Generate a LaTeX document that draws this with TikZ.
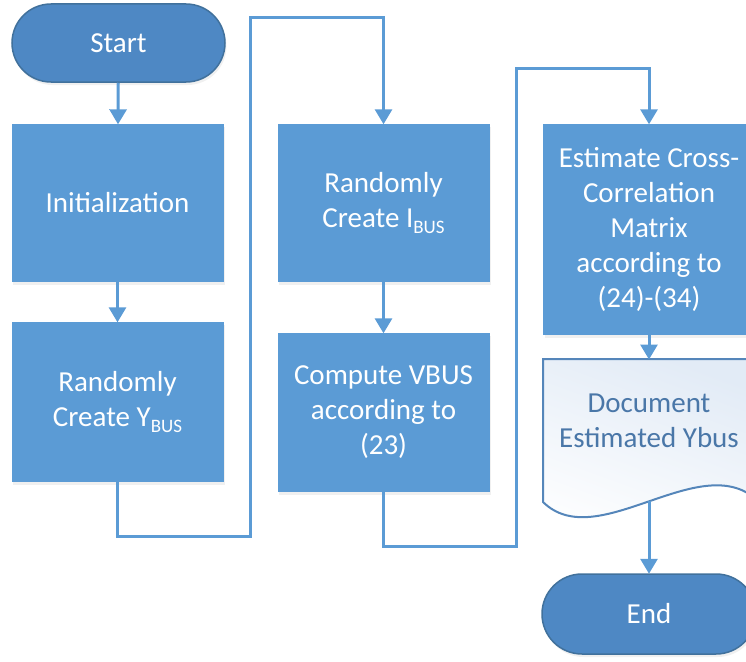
\documentclass[tikz,border=0pt]{standalone}
\usepackage{fontspec}
\setmainfont{Carlito}
\usetikzlibrary{arrows.meta,shadows}

\definecolor{boxblue}{HTML}{5B9BD5}
\definecolor{termblue}{HTML}{4E88C4}
\definecolor{termedge}{HTML}{41719C}
\definecolor{docedge}{HTML}{5586BA}
\definecolor{doctext}{HTML}{4A77A8}
\definecolor{docfill}{HTML}{E2EBF6}

\newcommand{\lowtext}[1]{\raisebox{-0.22em}{\fontsize{19}{19}\selectfont #1}}

\tikzset{
  every node/.style={font=\fontsize{29}{35}\selectfont, align=center},
  softshadow/.style={drop shadow={opacity=0.12, shadow xshift=1.5pt, shadow yshift=-3pt}},
  procbox/.style={rectangle, fill=boxblue, text=white, minimum width=212pt, inner sep=0pt, softshadow},
  terminal/.style={rectangle, rounded corners=39pt, fill=termblue, draw=termedge, line width=1.5pt,
                   text=white, minimum width=213pt, minimum height=78pt, inner sep=0pt, softshadow},
  flow/.style={draw=boxblue, line width=3pt},
  arr/.style={flow, -{Triangle[width=17pt,length=15pt]}, shorten >=-0.5pt}
}

\begin{document}
\begin{tikzpicture}[x=1pt, y=-1pt]
  \useasboundingbox (0,0) rectangle (746,661);

  % first column
  \node[terminal] (start) at (118.5,43) {Start};
  \node[procbox, minimum height=158pt] (init) at (117.5,203) {Initialization};
  \node[procbox, minimum height=160pt] (ybus) at (117.5,402) {Randomly\\Create Y\lowtext{BUS}};

  % second column
  \node[procbox, minimum height=158pt] (ibus) at (383.5,203) {Randomly\\Create I\lowtext{BUS}};
  \node[procbox, minimum height=159pt] (vbus) at (383.5,412.5) {Compute VBUS\\according to\\(23)};

  % third column
  \node[procbox, minimum height=211pt] (cross) at (649,229.5)
    {Estimate Cross-\\Correlation\\Matrix\\according to\\(24)-(34)};

  % document shape with wavy lower edge
  \path[draw=docedge, line width=2pt, top color=docfill, bottom color=white, shading angle=-20]
    (543,359) -- (757,359) -- (757,500)
    .. controls (700,448) and (597,555) .. (543,502) -- cycle;
  \node[text=doctext] (doc) at (649,420.5) {Document\\Estimated Ybus};
  \coordinate (doctop) at (649,359);
  \coordinate (docwave) at (649,501);

  \node[terminal, minimum width=214pt, minimum height=80pt, rounded corners=40pt] (end) at (649,614) {End};

  % bend points of the long connectors
  \coordinate (j1) at (250,536);
  \coordinate (j2) at (250,18);
  \coordinate (j3) at (516,546);
  \coordinate (j4) at (516,68);

  % connectors
  \draw[arr] (start) -- (init);
  \draw[arr] (init) -- (ybus);
  \draw[arr] (ybus.south) |- (j1) -- (j2) -| (ibus.north);
  \draw[arr] (ibus) -- (vbus);
  \draw[arr] (vbus.south) |- (j3) -- (j4) -| (cross.north);
  \draw[arr] (cross.south) -- (doctop);
  \draw[arr] (docwave) -- (end.north);
\end{tikzpicture}
\end{document}
